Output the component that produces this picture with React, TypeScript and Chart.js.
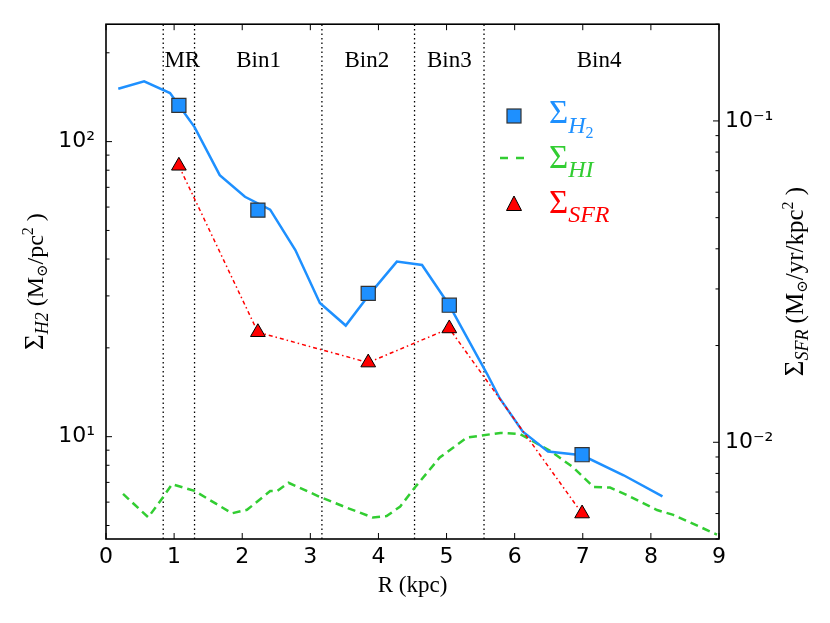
import { useEffect, useRef } from "react";
import { Chart, registerables } from "chart.js";

Chart.register(...registerables);

// radius (kpc) and surface densities
const h2LineR = [0.18, 0.56, 0.94, 1.3, 1.67, 2.04, 2.41, 2.78, 3.14, 3.52, 3.88, 4.27, 4.64, 5.04, 5.59, 5.78, 6.12, 6.49, 6.99, 7.6, 8.17];
const h2Line = [151, 160, 146, 112, 77, 65, 58.8, 42.9, 28.4, 23.8, 30.6, 39.2, 38.2, 27.9, 16.4, 13.5, 10.4, 8.9, 8.65, 7.4, 6.28];

const binR = [1.07, 2.23, 3.85, 5.04, 6.99];
const h2Bin = [132.7, 58.6, 30.6, 27.9, 8.69];
const sfrBin = [0.0725, 0.022, 0.0177, 0.0226, 0.006];

const hiR = [0.25, 0.62, 0.84, 0.97, 1.3, 1.85, 2.07, 2.41, 2.51, 2.68, 3.14, 3.53, 3.92, 4.12, 4.32, 4.54, 4.9, 5.3, 5.79, 6.08, 6.52, 6.86, 7.16, 7.4, 7.65, 8.09, 8.33, 8.97];
const hiVal = [6.4, 5.33, 6.25, 6.9, 6.55, 5.5, 5.65, 6.54, 6.54, 6.98, 6.25, 5.75, 5.32, 5.38, 5.8, 6.75, 8.5, 9.93, 10.3, 10.2, 8.96, 7.87, 6.75, 6.72, 6.34, 5.64, 5.43, 4.66];

const binEdges = [0.84, 1.3, 3.17, 4.53, 5.55];
const binNames = ["MR", "Bin1", "Bin2", "Bin3", "Bin4"];
const binNameR = [1.12, 2.24, 3.83, 5.04, 7.24];

const xTicks = [0, 1, 2, 3, 4, 5, 6, 7, 8, 9];
const leftTicks = [10, 100];
const leftLabels = ["10¹", "10²"];
const rightTicks = [0.01, 0.1];
const rightLabels = ["10⁻²", "10⁻¹"];

const BLUE = "#1E90FF";
const GREEN = "#32CD32";
const RED = "#FF0000";
const SERIF = '"Liberation Serif", "DejaVu Serif", serif';
const SANS = '"DejaVu Sans", sans-serif';

const Y_MIN = 4.5;
const Y_MAX = 250;

type Seg = { t: string; size: number; italic?: boolean; dy?: number };

function drawRich(ctx: CanvasRenderingContext2D, segs: Seg[], x: number, y: number, center: boolean, color: string, angle = 0) {
  ctx.save();
  ctx.translate(x, y);
  if (angle) ctx.rotate(angle);
  ctx.fillStyle = color;
  ctx.textAlign = "left";
  ctx.textBaseline = "alphabetic";
  const fonts = segs.map((s) => `${s.italic ? "italic " : ""}${s.size}px ${SERIF}`);
  const widths = segs.map((s, i) => {
    ctx.font = fonts[i];
    return ctx.measureText(s.t).width;
  });
  let cx = center ? -widths.reduce((a, b) => a + b, 0) / 2 : 0;
  segs.forEach((s, i) => {
    ctx.font = fonts[i];
    ctx.fillText(s.t, cx, s.dy || 0);
    cx += widths[i];
  });
  ctx.restore();
}

function minorTicks(lo: number, hi: number) {
  const out: number[] = [];
  for (let d = Math.floor(Math.log10(lo)); d <= Math.ceil(Math.log10(hi)); d++) {
    for (let m = 2; m <= 9; m++) {
      const v = m * Math.pow(10, d);
      if (v >= lo * 0.999 && v <= hi * 1.001) out.push(v);
    }
  }
  return out;
}

const decor = {
  id: "decor",
  afterDraw(chart: any) {
    const { ctx, chartArea: a, scales } = chart;
    const sx = scales.x;
    const yl = scales.y;
    const yr = scales.y2;
    ctx.save();
    ctx.strokeStyle = "#000";
    ctx.lineWidth = 1;
    const seg = (x1: number, y1: number, x2: number, y2: number) => {
      ctx.beginPath();
      ctx.moveTo(x1, y1);
      ctx.lineTo(x2, y2);
      ctx.stroke();
    };
    for (const v of xTicks) {
      const px = sx.getPixelForValue(v);
      seg(px, a.bottom, px, a.bottom - 6);
      seg(px, a.top, px, a.top + 6);
    }
    for (const v of leftTicks) {
      const py = yl.getPixelForValue(v);
      seg(a.left, py, a.left + 6, py);
    }
    for (const v of minorTicks(Y_MIN, Y_MAX)) {
      const py = yl.getPixelForValue(v);
      seg(a.left, py, a.left + 3.5, py);
    }
    for (const v of rightTicks) {
      const py = yr.getPixelForValue(v);
      seg(a.right, py, a.right - 6, py);
    }
    for (const v of minorTicks(yr.min, yr.max)) {
      const py = yr.getPixelForValue(v);
      seg(a.right, py, a.right - 3.5, py);
    }
    ctx.lineWidth = 1.6;
    ctx.strokeRect(a.left, a.top, a.right - a.left, a.bottom - a.top);

    // bin names
    ctx.fillStyle = "#000";
    ctx.font = `23px ${SERIF}`;
    ctx.textAlign = "center";
    ctx.textBaseline = "alphabetic";
    binNames.forEach((n, i) => ctx.fillText(n, sx.getPixelForValue(binNameR[i]), a.top + 43));

    // axis titles
    drawRich(ctx, [{ t: "R (kpc)", size: 23 }], (a.left + a.right) / 2, 592, true, "#000");
    const midY = (a.top + a.bottom) / 2;
    drawRich(
      ctx,
      [
        { t: "Σ", size: 27 },
        { t: "H2", size: 18, italic: true, dy: 5 },
        { t: " (M", size: 24 },
        { t: "⊙", size: 15, dy: 4 },
        { t: "/pc", size: 24 },
        { t: "2", size: 16, dy: -10 },
        { t: " )", size: 24 },
      ],
      43,
      midY,
      true,
      "#000",
      -Math.PI / 2
    );
    drawRich(
      ctx,
      [
        { t: "Σ", size: 27 },
        { t: "SFR", size: 18, italic: true, dy: 5 },
        { t: " (M", size: 25 },
        { t: "⊙", size: 15, dy: 4 },
        { t: "/yr/kpc", size: 25 },
        { t: "2", size: 16, dy: -10 },
        { t: " )", size: 25 },
      ],
      803,
      midY,
      true,
      "#000",
      -Math.PI / 2
    );

    // legend
    const lx = 514;
    ctx.fillStyle = BLUE;
    ctx.strokeStyle = "#333";
    ctx.lineWidth = 1.2;
    ctx.fillRect(lx - 7, 109, 14, 14);
    ctx.strokeRect(lx - 7, 109, 14, 14);
    ctx.strokeStyle = GREEN;
    ctx.lineWidth = 2.5;
    ctx.setLineDash([8, 8]);
    seg(500, 158, 528, 158);
    ctx.setLineDash([]);
    ctx.fillStyle = RED;
    ctx.strokeStyle = "#000";
    ctx.lineWidth = 1;
    ctx.beginPath();
    ctx.moveTo(lx, 196);
    ctx.lineTo(lx + 7.5, 210.5);
    ctx.lineTo(lx - 7.5, 210.5);
    ctx.closePath();
    ctx.fill();
    ctx.stroke();
    drawRich(ctx, [{ t: "Σ", size: 33 }, { t: "H", size: 24, italic: true, dy: 10 }, { t: "2", size: 16, dy: 15 }], 549, 123, false, BLUE);
    drawRich(ctx, [{ t: "Σ", size: 33 }, { t: "HI", size: 24, italic: true, dy: 9 }], 549, 168, false, GREEN);
    drawRich(ctx, [{ t: "Σ", size: 33 }, { t: "SFR", size: 24, italic: true, dy: 9 }], 549, 213, false, RED);
    ctx.restore();
  },
};

const pts = (xs: number[], ys: number[]) => xs.map((x, i) => ({ x, y: ys[i] }));

export default function App() {
  const canvasRef = useRef<HTMLCanvasElement | null>(null);

  useEffect(() => {
    if (!canvasRef.current) return;
    const edgeSets = binEdges.map((e) => ({
      data: [
        { x: e, y: Y_MIN },
        { x: e, y: Y_MAX },
      ],
      yAxisID: "y",
      borderColor: "#000",
      borderWidth: 1.3,
      borderDash: [1.5, 3],
      pointRadius: 0,
      order: 10,
    }));
    const chart = new Chart(canvasRef.current, {
      type: "line",
      data: {
        datasets: [
          {
            data: pts(binR, h2Bin),
            yAxisID: "y",
            showLine: false,
            pointStyle: "rect",
            pointRadius: 10,
            pointBackgroundColor: BLUE,
            pointBorderColor: "#333",
            pointBorderWidth: 1.2,
            order: 1,
          },
          {
            data: pts(binR, sfrBin),
            yAxisID: "y2",
            borderColor: RED,
            borderWidth: 1.5,
            borderDash: [4, 3, 1.5, 3],
            pointStyle: "triangle",
            pointRadius: 8.5,
            pointBackgroundColor: RED,
            pointBorderColor: "#000",
            pointBorderWidth: 1,
            order: 2,
          },
          {
            data: pts(h2LineR, h2Line),
            yAxisID: "y",
            borderColor: BLUE,
            borderWidth: 2.5,
            pointRadius: 0,
            order: 3,
          },
          {
            data: pts(hiR, hiVal),
            yAxisID: "y",
            borderColor: GREEN,
            borderWidth: 2.5,
            borderDash: [8, 5],
            pointRadius: 0,
            order: 4,
          },
          ...edgeSets,
        ] as any,
      },
      options: {
        responsive: false,
        animation: false,
        events: [],
        layout: { padding: { top: 18, left: 0, right: 0, bottom: 0 } },
        plugins: { legend: { display: false }, tooltip: { enabled: false } },
        scales: {
          x: {
            type: "linear",
            min: 0,
            max: 9,
            afterBuildTicks: (s: any) => {
              s.ticks = xTicks.map((v) => ({ value: v }));
            },
            afterFit: (s: any) => {
              s.height = 84;
            },
            ticks: { color: "#000", font: { family: SANS, size: 22 }, padding: 5 },
            grid: { display: false, drawTicks: false },
            border: { display: false },
          },
          y: {
            type: "logarithmic",
            position: "left",
            min: Y_MIN,
            max: Y_MAX,
            afterBuildTicks: (s: any) => {
              s.ticks = leftTicks.map((v) => ({ value: v }));
            },
            afterFit: (s: any) => {
              s.width = 106;
            },
            ticks: {
              color: "#000",
              font: { family: SANS, size: 22 },
              padding: 11,
              callback: (v: any) => leftLabels[leftTicks.indexOf(Number(v))] ?? "",
            },
            grid: { display: false, drawTicks: false },
            border: { display: false },
          },
          y2: {
            type: "logarithmic",
            position: "right",
            min: 0.005,
            max: 0.2,
            afterBuildTicks: (s: any) => {
              s.ticks = rightTicks.map((v) => ({ value: v }));
            },
            afterFit: (s: any) => {
              s.width = 111;
            },
            ticks: {
              color: "#000",
              font: { family: SANS, size: 22 },
              padding: 6,
              callback: (v: any) => {
                const i = rightTicks.findIndex((t) => Math.abs(t - Number(v)) < 1e-9);
                return i >= 0 ? rightLabels[i] : "";
              },
            },
            grid: { display: false, drawTicks: false },
            border: { display: false },
          },
        },
      },
      plugins: [decor],
    });
    return () => chart.destroy();
  }, []);

  return (
    <div style={{ position: "absolute", left: 0, top: 0, width: 830, height: 623, background: "#fff" }}>
      <canvas ref={canvasRef} width={830} height={623} />
    </div>
  );
}
